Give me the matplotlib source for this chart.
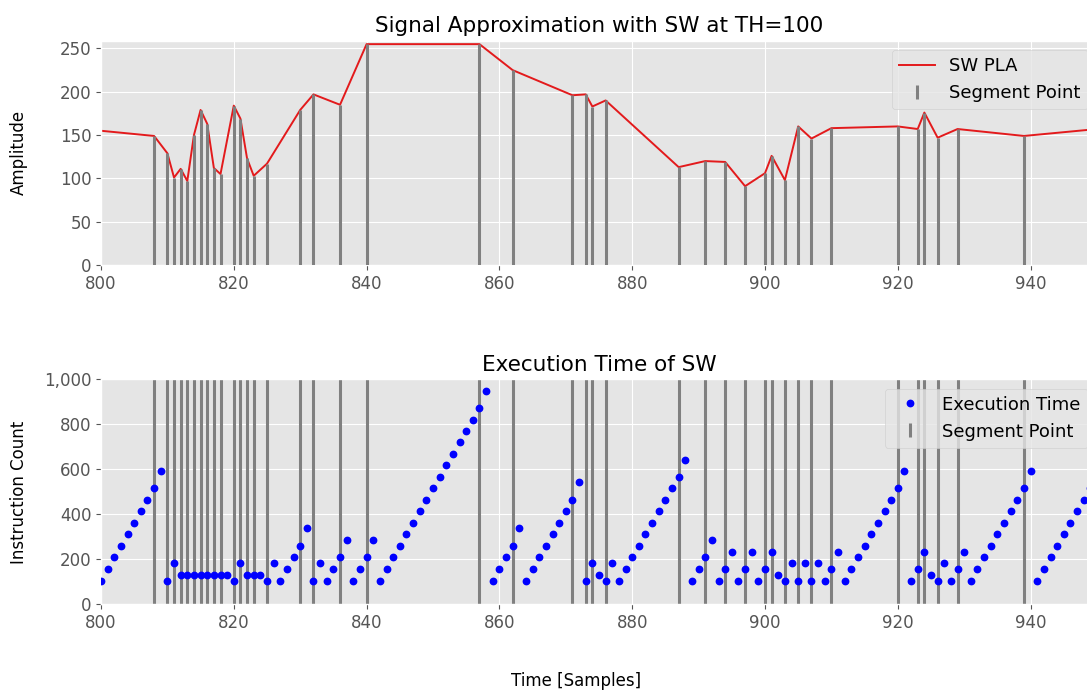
import matplotlib
matplotlib.use('Agg')
import matplotlib.pyplot as plt
from matplotlib.lines import Line2D
from matplotlib.ticker import StrMethodFormatter
import numpy as np

plt.style.use('ggplot')

# segment points found by the sliding window
seg_x = [808, 810, 811, 812, 813, 814, 815, 816, 817, 818, 820, 821, 822, 823, 825,
         830, 832, 836, 840, 857, 862, 871, 873, 874, 876, 887, 891, 894, 897, 900,
         901, 903, 905, 907, 910, 920, 923, 924, 926, 929, 939]

# PLA vertices (start, segment points, end)
pla_x = [800] + seg_x + [950]
pla_y = [155, 149, 129, 101, 111, 97, 150, 179, 163, 112, 105, 184, 169, 123, 103, 117,
         179, 197, 185, 255, 255, 225, 196, 197, 183, 190, 113, 120, 119, 91, 106,
         126, 98, 160, 146, 158, 160, 157, 176, 147, 157, 149, 157]

# execution time (instruction count) per sample, 800..949
exec_x = list(range(800, 950))
exec_y = [105, 157, 209, 261, 311, 363, 413, 465, 516, 592,
          105, 182, 132, 132, 132, 132, 132, 132, 132, 132,
          105, 182, 132, 132, 132, 105, 182, 105, 157, 209,
          261, 338, 105, 182, 105, 157, 209, 286, 105, 157,
          209, 286, 105, 157, 209, 261, 311, 363, 413, 465,
          516, 567, 619, 669, 720, 772, 822, 874, 951, 105,
          157, 209, 261, 338, 105, 157, 209, 261, 311, 363,
          413, 465, 542, 105, 182, 132, 105, 182, 105, 157,
          209, 261, 311, 363, 413, 465, 516, 567, 644, 105,
          157, 209, 286, 105, 157, 234, 105, 157, 234, 105,
          157, 234, 132, 105, 182, 105, 182, 105, 182, 105,
          157, 234, 105, 157, 209, 261, 311, 363, 413, 465,
          516, 592, 105, 157, 234, 132, 105, 182, 105, 157,
          234, 105, 157, 209, 261, 311, 363, 413, 465, 516,
          592, 105, 157, 209, 261, 311, 363, 413, 465, 516]

seg_color = '#808080'
fs = 12

fig = plt.figure(figsize=(10.87, 6.93), dpi=100)
ax1 = fig.add_axes([0.0929, 0.6176, 0.9163, 0.3237])
ax2 = fig.add_axes([0.0929, 0.1280, 0.9163, 0.3244])

# top: signal approximation
ax1.plot(pla_x, pla_y, color='#e31a1c', lw=1.4, zorder=2)
ax1.vlines(seg_x, 0, pla_y[1:-1], color=seg_color, lw=2.2, zorder=3)
ax1.set_xlim(800, 950)
ax1.set_ylim(0, 259)
ax1.set_yticks([0, 50, 100, 150, 200, 250])
ax1.set_title('Signal Approximation with SW at TH=100', fontsize=15.5)
ax1.set_ylabel('Amplitude', fontsize=fs, color='black', labelpad=23)
h1 = [Line2D([], [], color='#e31a1c', lw=1.4),
      Line2D([], [], color=seg_color, marker='|', linestyle='None', markersize=10, markeredgewidth=2.2)]
ax1.legend(h1, ['SW PLA', 'Segment Point'], loc='upper right', fontsize=13)

# bottom: execution time
for x in seg_x:
    ax2.axvline(x, color=seg_color, lw=2.2, zorder=2)
ax2.plot(exec_x, exec_y, 'o', color='blue', markersize=4.6, zorder=3)
ax2.set_xlim(800, 950)
ax2.set_ylim(0, 1000)
ax2.set_yticks([0, 200, 400, 600, 800, 1000])
ax2.yaxis.set_major_formatter(StrMethodFormatter('{x:,.0f}'))
ax2.set_title('Execution Time of SW', fontsize=15.5)
ax2.set_ylabel('Instruction Count', fontsize=fs, color='black', labelpad=11)
h2 = [Line2D([], [], color='blue', marker='o', linestyle='None', markersize=4.6),
      Line2D([], [], color=seg_color, marker='|', linestyle='None', markersize=10, markeredgewidth=2.2)]
ax2.legend(h2, ['Execution Time', 'Segment Point'], loc='upper right', fontsize=13)

for ax in (ax1, ax2):
    ax.set_xticks([800, 820, 840, 860, 880, 900, 920, 940])
    ax.tick_params(labelsize=fs)

fig.text(576 / 1087, 1 - 681 / 693, 'Time [Samples]', ha='center', va='center', fontsize=fs)

fig.savefig('out.png', dpi=100)
